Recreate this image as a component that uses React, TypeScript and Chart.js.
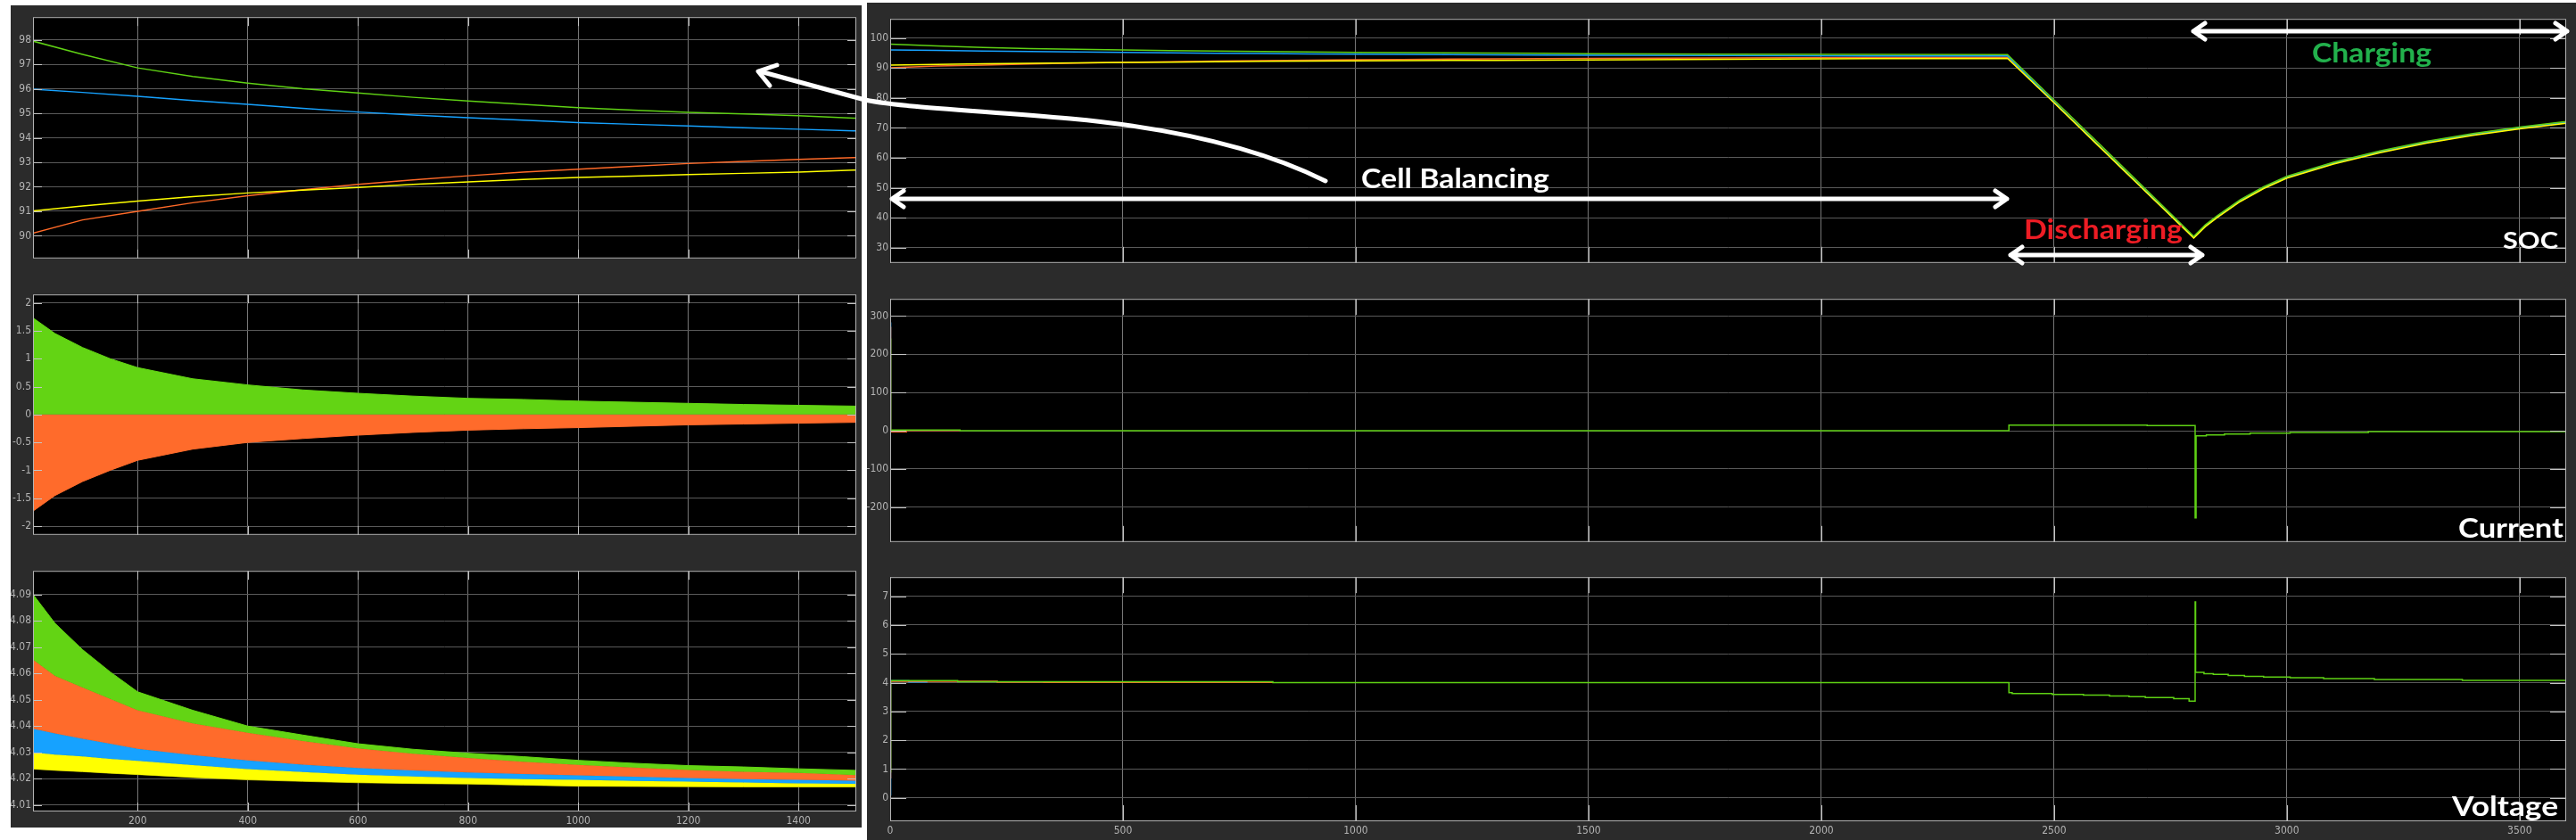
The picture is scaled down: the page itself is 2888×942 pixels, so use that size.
import React, { useEffect, useRef } from "react";
import { Chart, registerables } from "chart.js";
Chart.register(...registerables);

// ---------- SOC (shared by the zoomed left-top view and the right SOC panel) ----------
const SOC_T = [0, 100, 200, 300, 400, 500, 600, 700, 800, 900, 1000, 1100, 1200, 1300, 1400, 1500, 1800, 2100, 2400, 2500, 2600, 2700, 2800, 2825, 2850, 2900, 2950, 3000, 3100, 3200, 3300, 3400, 3500, 3600];
const SOC_GREEN = [98.0, 97.4, 96.85, 96.5, 96.23, 96.0, 95.83, 95.65, 95.5, 95.36, 95.23, 95.13, 95.04, 94.97, 94.9, 94.8, 94.65, 94.55, 94.45, 79.3, 64.2, 49.0, 33.8, 37.6, 40.6, 46.0, 50.3, 53.8, 58.5, 62.3, 65.5, 68.1, 70.3, 72.1];
const SOC_BLUE = [96.0, 95.85, 95.69, 95.52, 95.36, 95.2, 95.05, 94.93, 94.82, 94.72, 94.62, 94.55, 94.48, 94.41, 94.35, 94.28, 94.15, 94.05, 94.0, 78.6, 63.5, 48.4, 33.4, 37.4, 40.4, 45.8, 50.1, 53.6, 58.3, 62.1, 65.3, 67.9, 70.1, 71.9];
const SOC_ORANGE = [90.05, 90.65, 91.0, 91.35, 91.64, 91.88, 92.1, 92.28, 92.45, 92.6, 92.72, 92.84, 92.95, 93.04, 93.12, 93.19, 93.35, 93.5, 93.6, 78.5, 63.4, 48.3, 33.3, 37.2, 40.2, 45.6, 49.9, 53.4, 58.1, 61.9, 65.1, 67.7, 69.9, 71.7];
const SOC_YELLOW = [91.0, 91.22, 91.42, 91.6, 91.75, 91.86, 91.97, 92.1, 92.2, 92.3, 92.38, 92.44, 92.5, 92.55, 92.6, 92.68, 92.9, 93.1, 93.2, 78.4, 63.3, 48.2, 33.2, 37.0, 40.0, 45.4, 49.7, 53.2, 57.9, 61.7, 64.9, 67.5, 69.7, 71.5];

// ---------- balancing current envelope (left middle) ----------
const CB_T = [10, 50, 100, 150, 200, 300, 400, 500, 600, 700, 800, 900, 1000, 1100, 1200, 1300, 1400, 1505];
const CB_POS = [1.73, 1.45, 1.2, 1.0, 0.84, 0.64, 0.53, 0.44, 0.38, 0.33, 0.29, 0.27, 0.24, 0.22, 0.2, 0.18, 0.165, 0.15];
const CB_NEG = [-1.73, -1.45, -1.2, -1.0, -0.82, -0.62, -0.5, -0.43, -0.37, -0.32, -0.28, -0.255, -0.235, -0.21, -0.185, -0.17, -0.155, -0.14];

// ---------- cell voltage bands (left bottom) ----------
const VB_T = [10, 50, 100, 150, 200, 300, 400, 500, 600, 700, 800, 900, 1000, 1100, 1200, 1300, 1400, 1505];
const VB_GREEN_TOP = [4.09, 4.079, 4.069, 4.0606, 4.053, 4.046, 4.04, 4.0366, 4.0333, 4.0312, 4.0297, 4.0284, 4.027, 4.0259, 4.025, 4.0245, 4.0238, 4.0232];
const VB_ORANGE_TOP = [4.0652, 4.059, 4.0546, 4.0503, 4.046, 4.041, 4.0375, 4.0343, 4.0315, 4.0295, 4.0279, 4.0265, 4.0253, 4.0243, 4.0233, 4.0227, 4.0222, 4.0214];
const VB_BLUE_TOP = [4.039, 4.0372, 4.0352, 4.0333, 4.0314, 4.029, 4.027, 4.0254, 4.0241, 4.0232, 4.0224, 4.0218, 4.0213, 4.0208, 4.0203, 4.0199, 4.0196, 4.0193];
const VB_YELLOW_TOP = [4.03, 4.0292, 4.0285, 4.0276, 4.0268, 4.0252, 4.0237, 4.0226, 4.0216, 4.0209, 4.0203, 4.0199, 4.0196, 4.0192, 4.0189, 4.0186, 4.0183, 4.0181];
const VB_YELLOW_BOTTOM = [4.0237, 4.0232, 4.0227, 4.0221, 4.0216, 4.0205, 4.0196, 4.019, 4.0185, 4.0182, 4.018, 4.0176, 4.0172, 4.0171, 4.017, 4.0169, 4.0169, 4.0169];

// ---------- pack current (right middle); each value holds until its time ----------
const CUR_T = [0, 1, 150, 2403, 2700, 2803, 2805, 2827, 2866, 2921, 3007, 3175, 3600];
const CUR_GREEN = [240, 240, 2, 0, 15, 13.5, -228, -13, -11, -8.5, -6.5, -4.3, -2.2];
const CUR_O_T = [0, 1, 35, 150];
const CUR_ORANGE = [270, 270, -3, 1];
const CUR_B_T = [0, 1, 20];
const CUR_BLUE = [282, 282, 0];

// ---------- pack voltage (right bottom); each value holds until its time ----------
const VOLT_T = [0, 1, 145, 822, 2403, 2410, 2496, 2563, 2619, 2661, 2696, 2757, 2790, 2803, 2804, 2822, 2842, 2874, 2909, 2950, 3007, 3079, 3188, 3377, 3600];
const VOLT_GREEN = [0.9, 0.9, 4.07, 4.03, 4.0, 3.65, 3.62, 3.59, 3.57, 3.54, 3.51, 3.48, 3.44, 3.36, 6.8, 4.36, 4.31, 4.29, 4.25, 4.22, 4.19, 4.17, 4.14, 4.11, 4.08];
const VOLT_O_T = [0, 1, 230, 330, 822];
const VOLT_ORANGE = [0.7, 0.7, 4.05, 4.015, 4.005];
const VOLT_B_T = [0, 1, 40, 80];
const VOLT_BLUE = [0.1, 0.1, 4.06, 4.02];

// ---------- axes ----------
const LEFT_X_TICKS = [200, 400, 600, 800, 1000, 1200, 1400];
const RIGHT_X_TICKS = [0, 500, 1000, 1500, 2000, 2500, 3000, 3500];
const SOCZ_Y_TICKS = [90, 91, 92, 93, 94, 95, 96, 97, 98];
const CB_Y_TICKS = [-2, -1.5, -1, -0.5, 0, 0.5, 1, 1.5, 2];
const VB_Y_TICKS = [4.01, 4.02, 4.03, 4.04, 4.05, 4.06, 4.07, 4.08, 4.09];
const SOC_Y_TICKS = [30, 40, 50, 60, 70, 80, 90, 100];
const CUR_Y_TICKS = [-200, -100, 0, 100, 200, 300];
const VOLT_Y_TICKS = [0, 1, 2, 3, 4, 5, 6, 7];

const GREEN = "#5fd114";
const ORANGE = "#ff6a28";
const BLUE = "#16a2ff";
const YELLOW = "#ffff00";
const FIG_BG = "#2b2b2b";
const TICK_FONT = { family: '"Liberation Sans Narrow","DejaVu Sans Condensed","Liberation Sans",sans-serif', size: 12 };

const pts = (xs: number[], ys: number[]) => xs.map((x, i) => ({ x, y: ys[i] }));

const line = (xs: number[], ys: number[], color: string, extra: any = {}) => ({
  data: pts(xs, ys),
  borderColor: color,
  backgroundColor: color,
  borderWidth: 1.5,
  pointRadius: 0,
  fill: false,
  ...extra,
});

function scopePlugin(tickLen: number) {
  return {
    id: "scopeFrame",
    beforeDraw(chart: any) {
      const { ctx, chartArea: a } = chart;
      ctx.save();
      ctx.fillStyle = "#000";
      ctx.fillRect(a.left, a.top, a.right - a.left, a.bottom - a.top);
      ctx.restore();
    },
    afterDraw(chart: any) {
      const { ctx, chartArea: a, scales } = chart;
      ctx.save();
      ctx.strokeStyle = "#c4c4c4";
      ctx.lineWidth = 1;
      ctx.beginPath();
      for (const t of scales.y.ticks) {
        const y = Math.round(scales.y.getPixelForValue(t.value)) + 0.5;
        ctx.moveTo(a.left, y);
        ctx.lineTo(a.left + tickLen, y);
        ctx.moveTo(a.right, y);
        ctx.lineTo(a.right - tickLen, y);
      }
      for (const t of scales.x.ticks) {
        const x = Math.round(scales.x.getPixelForValue(t.value)) + 0.5;
        ctx.moveTo(x, a.top);
        ctx.lineTo(x, a.top + tickLen);
        ctx.moveTo(x, a.bottom);
        ctx.lineTo(x, a.bottom - tickLen);
      }
      ctx.stroke();
      ctx.strokeStyle = "#b4b4b4";
      ctx.strokeRect(a.left + 0.5, a.top + 0.5, a.right - a.left - 1, a.bottom - a.top - 1);
      ctx.restore();
    },
  };
}

type PanelProps = {
  plotLeft: number; plotTop: number; plotW: number; plotH: number;
  yW: number; xH: number; showXLabels: boolean; tickLen: number;
  xMin: number; xMax: number; xTicks: number[];
  yMin: number; yMax: number; yTicks: number[];
  datasets: any[];
};

function ScopePanel(p: PanelProps) {
  const ref = useRef<HTMLCanvasElement>(null);
  const W = p.yW + p.plotW + 1;
  const H = p.plotH + 1 + p.xH;
  useEffect(() => {
    const chart = new Chart(ref.current as HTMLCanvasElement, {
      type: "line",
      data: { datasets: p.datasets },
      options: {
        responsive: false,
        animation: false,
        devicePixelRatio: 1,
        layout: { padding: { left: 0, right: 1, top: 1, bottom: 0 } },
        plugins: { legend: { display: false }, tooltip: { enabled: false } },
        elements: { point: { radius: 0 }, line: { tension: 0 } },
        scales: {
          x: {
            type: "linear",
            min: p.xMin,
            max: p.xMax,
            afterBuildTicks: (s: any) => { s.ticks = p.xTicks.map((v) => ({ value: v })); },
            afterFit: (s: any) => { s.height = p.xH; },
            grid: { color: "#777777", lineWidth: 1, drawTicks: false },
            border: { display: false },
            ticks: {
              display: p.showXLabels, color: "#b3b3b3", font: TICK_FONT, padding: 4,
              maxRotation: 0, autoSkip: false, callback: (v: any) => String(v),
            },
          },
          y: {
            type: "linear",
            min: p.yMin,
            max: p.yMax,
            afterBuildTicks: (s: any) => { s.ticks = p.yTicks.map((v) => ({ value: v })); },
            afterFit: (s: any) => { s.width = p.yW; },
            grid: { color: "#5a5a5a", lineWidth: 1, drawTicks: false },
            border: { display: false },
            ticks: { color: "#b3b3b3", font: TICK_FONT, padding: 2, autoSkip: false, callback: (v: any) => String(v) },
          },
        },
      } as any,
      plugins: [scopePlugin(p.tickLen)],
    });
    return () => chart.destroy();
  }, []);
  return (
    <canvas
      ref={ref}
      width={W}
      height={H}
      style={{ position: "absolute", left: p.plotLeft - p.yW, top: p.plotTop - 1, width: W, height: H }}
    />
  );
}

function DoubleArrow({ x1, x2, y }: { x1: number; x2: number; y: number }) {
  const d = `M${x1},${y} L${x2},${y} M${x1 + 13},${y - 9} L${x1},${y} L${x1 + 13},${y + 9} M${x2 - 13},${y - 9} L${x2},${y} L${x2 - 13},${y + 9}`;
  return <path d={d} stroke="#fff" strokeWidth={5} fill="none" strokeLinecap="round" strokeLinejoin="round" />;
}

function Label({ x, y, w, size, color, children }: any) {
  return (
    <text x={x} y={y} fill={color} fontFamily="Lato, 'Open Sans', sans-serif" fontWeight={700} fontSize={size}
      textLength={w} lengthAdjust="spacingAndGlyphs">{children}</text>
  );
}

export default function App() {
  const socSets = () => [
    line(SOC_T, SOC_YELLOW, YELLOW),
    line(SOC_T, SOC_GREEN, GREEN),
    line(SOC_T, SOC_BLUE, BLUE),
    line(SOC_T, SOC_ORANGE, ORANGE),
  ];
  const cbSets = [
    line(CB_T, CB_POS, GREEN, { fill: "origin", backgroundColor: "#63d414", borderColor: "#63d414", borderWidth: 1 }),
    line(CB_T, CB_NEG, ORANGE, { fill: "origin", backgroundColor: "#ff6b2b", borderColor: "#ff6b2b", borderWidth: 1 }),
  ];
  const vbSets = [
    line(VB_T, VB_GREEN_TOP, GREEN, { fill: "+1", backgroundColor: "#63d414", borderColor: "#63d414", borderWidth: 1 }),
    line(VB_T, VB_ORANGE_TOP, ORANGE, { fill: "+1", backgroundColor: "#ff6b2b", borderColor: "#ff6b2b", borderWidth: 1 }),
    line(VB_T, VB_BLUE_TOP, BLUE, { fill: "+1", backgroundColor: "#16a2ff", borderColor: "#16a2ff", borderWidth: 1 }),
    line(VB_T, VB_YELLOW_TOP, YELLOW, { fill: "+1", backgroundColor: "#ffff00", borderColor: "#ffff00", borderWidth: 1 }),
    line(VB_T, VB_YELLOW_BOTTOM, "#9a9a00", { borderWidth: 1 }),
  ];
  const curSets = [
    line(CUR_T, CUR_GREEN, GREEN, { stepped: "after" }),
    line(CUR_O_T, CUR_ORANGE, ORANGE, { stepped: "after" }),
    line(CUR_B_T, CUR_BLUE, BLUE, { stepped: "after" }),
  ];
  const voltSets = [
    line(VOLT_T, VOLT_GREEN, GREEN, { stepped: "after" }),
    line(VOLT_O_T, VOLT_ORANGE, ORANGE, { stepped: "after" }),
    line(VOLT_B_T, VOLT_BLUE, BLUE, { stepped: "after" }),
  ];

  const L = { plotLeft: 37, plotW: 923, yW: 25, tickLen: 10, xMin: 10, xMax: 1505, xTicks: LEFT_X_TICKS };
  const R = { plotLeft: 998, plotW: 1879, yW: 26, tickLen: 18, xMin: 0, xMax: 3600, xTicks: RIGHT_X_TICKS };

  return (
    <div style={{ position: "absolute", left: 0, top: 0, width: 2888, height: 942, background: "#fff", overflow: "hidden" }}>
      <div style={{ position: "absolute", left: 12, top: 6, width: 954, height: 922, background: FIG_BG }} />
      <div style={{ position: "absolute", left: 972, top: 3, width: 1916, height: 939, background: FIG_BG }} />

      <ScopePanel {...L} plotTop={11} plotH={288} xH={0} showXLabels={false} yMin={89.08} yMax={98.92} yTicks={SOCZ_Y_TICKS} datasets={socSets()} />
      <ScopePanel {...L} plotTop={322} plotH={287} xH={0} showXLabels={false} yMin={-2.155} yMax={2.15} yTicks={CB_Y_TICKS} datasets={cbSets} />
      <ScopePanel {...L} plotTop={632} plotH={278} xH={18} showXLabels={true} yMin={4.0076} yMax={4.0989} yTicks={VB_Y_TICKS} datasets={vbSets} />

      <ScopePanel {...R} plotTop={13} plotH={291} xH={0} showXLabels={false} yMin={24.9} yMax={106.4} yTicks={SOC_Y_TICKS} datasets={socSets()} />
      <ScopePanel {...R} plotTop={327} plotH={290} xH={0} showXLabels={false} yMin={-291} yMax={345} yTicks={CUR_Y_TICKS} datasets={curSets} />
      <ScopePanel {...R} plotTop={639} plotH={282} xH={20} showXLabels={true} yMin={-0.81} yMax={7.66} yTicks={VOLT_Y_TICKS} datasets={voltSets} />

      <svg width={2888} height={942} style={{ position: "absolute", left: 0, top: 0, pointerEvents: "none" }}>
        <path d="M1486,203 C1420,170 1330,145 1200,133 C1100,124 1000,120 966,111 L852,80" stroke="#fff" strokeWidth={5}
          fill="none" strokeLinecap="round" strokeLinejoin="round" />
        <path d="M871,73 L850,80 L863,96" stroke="#fff" strokeWidth={5} fill="none" strokeLinecap="round" strokeLinejoin="round" />
        <DoubleArrow x1={1000} x2={2250} y={223} />
        <DoubleArrow x1={2254} x2={2469} y={286} />
        <DoubleArrow x1={2459} x2={2878} y={35} />
        <Label x={1526} y={211} w={211} size={31} color="#ffffff">Cell Balancing</Label>
        <Label x={2269} y={268} w={178} size={30} color="#ed1c24">Discharging</Label>
        <Label x={2592} y={70} w={134} size={30} color="#22b14c">Charging</Label>
        <Label x={2806} y={279} w={62} size={27} color="#ffffff">SOC</Label>
        <Label x={2756} y={603} w={118} size={30} color="#ffffff">Current</Label>
        <Label x={2749} y={915} w={119} size={31} color="#ffffff">Voltage</Label>
      </svg>
    </div>
  );
}
